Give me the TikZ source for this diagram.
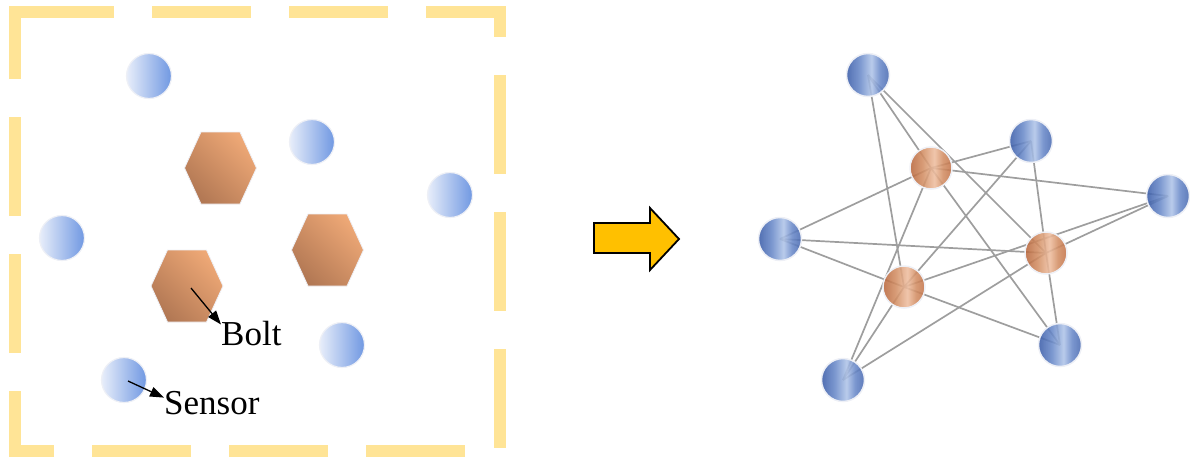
\documentclass[tikz,border=0pt]{standalone}
\usepackage{fontspec}
\setmainfont{Liberation Serif}
\usetikzlibrary{arrows.meta,backgrounds}

\definecolor{frameyellow}{RGB}{255,228,150}
\definecolor{sensorlight}{RGB}{232,238,250}
\definecolor{sensordark}{RGB}{112,152,226}
\definecolor{ringwhite}{RGB}{238,240,246}
\definecolor{boltlight}{RGB}{238,168,118}
\definecolor{boltdark}{RGB}{178,120,84}
\definecolor{bdark}{RGB}{58,92,168}
\definecolor{bmid}{RGB}{104,136,200}
\definecolor{bdarkr}{RGB}{72,104,176}
\definecolor{blight}{RGB}{176,196,232}
\definecolor{odark}{RGB}{184,102,60}
\definecolor{omid}{RGB}{210,142,100}
\definecolor{odarkr}{RGB}{194,114,72}
\definecolor{olight}{RGB}{238,190,160}
\definecolor{edgegray}{RGB}{158,158,158}
\definecolor{arrowamber}{RGB}{255,192,0}

% cylinder-like sphere shadings (light band slightly right of centre)
\pgfdeclarehorizontalshading{bluesphere}{100bp}{color(0bp)=(bdark); color(25bp)=(bdark); color(40bp)=(bmid); color(54bp)=(blight); color(64bp)=(bmid); color(75bp)=(bdarkr); color(100bp)=(bdarkr)}
\pgfdeclarehorizontalshading{orangesphere}{100bp}{color(0bp)=(odark); color(25bp)=(odark); color(40bp)=(omid); color(54bp)=(olight); color(64bp)=(omid); color(75bp)=(odarkr); color(100bp)=(odarkr)}

\tikzset{
  frame/.style={line width=12pt, draw=frameyellow, dash pattern=on 99pt off 38pt},
  sensor/.style={circle, minimum size=45pt, inner sep=0pt, left color=sensorlight,
    right color=sensordark, draw=ringwhite, line width=1.2pt},
  boltshape/.style={top color=boltlight, bottom color=boltdark, shading angle=-45,
    draw=ringwhite, line width=0.8pt},
  labeltext/.style={inner sep=0pt, font=\fontsize{35}{40}\selectfont},
  pointer/.style={line width=1.3pt, -{Triangle[length=14pt,width=10pt]}},
  bignode/.style={circle, minimum size=43pt, inner sep=0pt, shading=bluesphere,
    draw=ringwhite, line width=1.5pt, fill opacity=0.88, draw opacity=1},
  onode/.style={circle, minimum size=42pt, inner sep=0pt, shading=orangesphere,
    draw=ringwhite, line width=1.5pt, fill opacity=0.88, draw opacity=1},
  link/.style={draw=edgegray, line width=1.7pt},
  bigarrow/.style={fill=arrowamber, draw=black, line width=1.8pt, line join=miter}
}

\begin{document}
\begin{tikzpicture}[x=1pt,y=-1pt]
\useasboundingbox (0,0) rectangle (1190,461);

% ---- left panel: dashed frame ----
\draw[frame] (15,12) -- (500,12) -- (500,451) -- (15,451) -- (15,12);
\fill[frameyellow] (9,6) rectangle (15.5,12.5);

% sensors
\node[sensor] (s1) at (149,76) {};
\node[sensor] (s2) at (312,142) {};
\node[sensor] (s3) at (450,195) {};
\node[sensor] (s4) at (62,238) {};
\node[sensor] (s5) at (342,345) {};
\node[sensor] (s6) at (124,380) {};

% bolts (hexagons)
\coordinate (h1) at (220.5,168);
\coordinate (h2) at (327.5,250);
\coordinate (h3) at (187,286);
\foreach \h in {h1,h2,h3}{
  \shadedraw[boltshape, shift={(\h)}] (-36,0) -- (-19.5,-36) -- (19.5,-36) -- (36,0)
    -- (19.5,36) -- (-19.5,36) -- cycle;
}

% labels with pointers
\node[labeltext, anchor=base west] (boltlbl) at (221,345) {Bolt};
\coordinate (boltfrom) at (191,288);
\draw[pointer] (boltfrom) -- ([yshift=-4pt]boltlbl.north west);
\node[labeltext, anchor=base west] (sensorlbl) at (164,414) {Sensor};
\coordinate (sensorfrom) at (128,381);
\draw[pointer] (sensorfrom) -- ([yshift=-7pt]sensorlbl.north west);

% ---- transition arrow ----
\draw[bigarrow] (594,223) -- (650,223) -- (650,208) -- (679,239) -- (650,270)
  -- (650,253) -- (594,253) -- cycle;

% ---- right panel: sensor/bolt graph ----
\node[bignode] (b1) at (868,75) {};
\node[bignode] (b2) at (1031,141) {};
\node[bignode] (b3) at (1168,196) {};
\node[bignode] (b4) at (780,239) {};
\node[bignode] (b5) at (1060,345) {};
\node[bignode] (b6) at (843,380) {};
\node[onode] (o1) at (931,168) {};
\node[onode] (o2) at (1046,253) {};
\node[onode] (o3) at (904,287) {};

\begin{pgfonlayer}{background}
  \foreach \o in {o1,o2,o3}{
    \foreach \b in {b1,b2,b3,b4,b5,b6}{
      \draw[link] (\o.center) -- (\b.center);
    }
  }
\end{pgfonlayer}
\end{tikzpicture}
\end{document}
